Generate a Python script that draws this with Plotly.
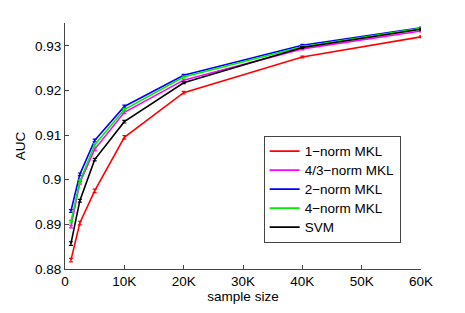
import plotly.graph_objects as go

sample_sizes = [1000, 2500, 5000, 10000, 20000, 40000, 60000]

series_names = ["1\u2212norm MKL", "4/3\u2212norm MKL", "2\u2212norm MKL", "4\u2212norm MKL", "SVM"]
series_colors = ["#ff0000", "#ff00ff", "#0000ff", "#00ee00", "#000000"]

auc_1norm = [0.8820, 0.8903, 0.8975, 0.9095, 0.9195, 0.9275, 0.9320]
auc_43norm = [0.8895, 0.8993, 0.9068, 0.9151, 0.9223, 0.9293, 0.9333]
auc_2norm = [0.8930, 0.9012, 0.9088, 0.9164, 0.9234, 0.9301, 0.9340]
auc_4norm = [0.8906, 0.8996, 0.9078, 0.9157, 0.9230, 0.9298, 0.9339]
auc_svm = [0.8857, 0.8953, 0.9045, 0.9130, 0.9217, 0.9296, 0.9337]

err_1norm = [0.0004, 0.0004, 0.0004, 0.0004, 0.0003, 0.0002, 0.0002]
err_43norm = [0.0003, 0.0003, 0.0003, 0.0003, 0.0002, 0.0002, 0.0002]
err_2norm = [0.0003, 0.0003, 0.0003, 0.0003, 0.0002, 0.0002, 0.0002]
err_4norm = [0.0003, 0.0003, 0.0003, 0.0003, 0.0002, 0.0002, 0.0002]
err_svm = [0.0004, 0.0003, 0.0003, 0.0003, 0.0002, 0.0002, 0.0002]

all_auc = [auc_1norm, auc_43norm, auc_2norm, auc_4norm, auc_svm]
all_err = [err_1norm, err_43norm, err_2norm, err_4norm, err_svm]

x_tickvals = [0, 10000, 20000, 30000, 40000, 50000, 60000]
x_ticktext = ["0", "10K", "20K", "30K", "40K", "50K", "60K"]
y_tickvals = [0.88, 0.89, 0.90, 0.91, 0.92, 0.93]
y_ticktext = ["0.88", "0.89", "0.9", "0.91", "0.92", "0.93"]

font_family = "Liberation Sans, Arial, sans-serif"

fig = go.Figure()
for name, color, ys, es in zip(series_names, series_colors, all_auc, all_err):
    fig.add_trace(go.Scatter(
        x=sample_sizes, y=ys,
        name="<span style='font-size:13.5px'>" + name + "</span>",
        mode="lines",
        line=dict(color=color, width=1.6),
        error_y=dict(type="data", array=es, visible=True, color=color, thickness=1.2, width=2),
    ))

axis_common = dict(
    showline=True, linecolor="#444444", linewidth=1,
    ticks="inside", ticklen=4, tickcolor="#444444",
    showgrid=False, zeroline=False, mirror=False,
    tickfont=dict(family=font_family, size=13.5, color="#000000"),
)

# the page body has an 8px default margin, so the figure is sized to fit the window
fig.update_layout(
    width=457, height=305,
    margin=dict(l=53, r=44, t=15, b=41),
    paper_bgcolor="white", plot_bgcolor="white",
    font=dict(family=font_family, size=13.5, color="#000000"),
    xaxis=dict(range=[0, 60000], tickvals=x_tickvals, ticktext=x_ticktext,
               title=dict(text="sample size", standoff=2, font=dict(size=13.5)), **axis_common),
    yaxis=dict(range=[0.88, 0.9351], tickvals=y_tickvals, ticktext=y_ticktext,
               title=dict(text="AUC", standoff=6, font=dict(size=13.5)), **axis_common),
    legend=dict(x=0.558, y=0.542, xanchor="left", yanchor="top",
                bordercolor="#444444", borderwidth=1, bgcolor="white",
                font=dict(size=11.4), itemwidth=30, tracegroupgap=0),
    showlegend=True,
)

fig.write_html("out.html")
